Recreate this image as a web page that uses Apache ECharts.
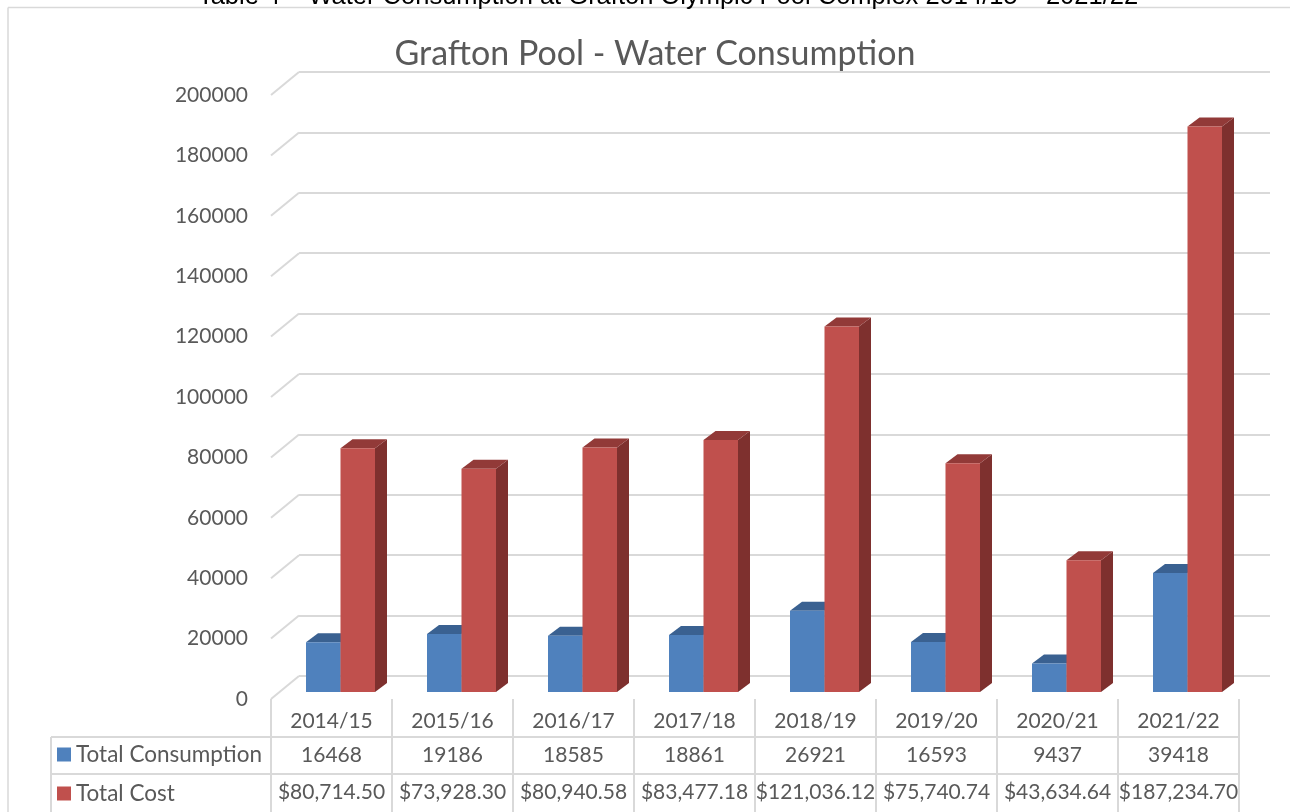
<!DOCTYPE html>
<html>
<head>
<meta charset="utf-8">
<script src="https://cdn.jsdelivr.net/npm/echarts@6/dist/echarts.min.js"></script>
<style>
html,body{margin:0;padding:0;background:#fff;}
#c{width:1290px;height:812px;}
</style>
</head>
<body>
<div id="c"></div>
<script>
const categories = ['2014/15','2015/16','2016/17','2017/18','2018/19','2019/20','2020/21','2021/22'];
const consumption = [16468, 19186, 18585, 18861, 26921, 16593, 9437, 39418];
const cost = [80714.50, 73928.30, 80940.58, 83477.18, 121036.12, 75740.74, 43634.64, 187234.70];
const yTicks = [0, 20000, 40000, 60000, 80000, 100000, 120000, 140000, 160000, 180000, 200000];
const seriesNames = ['Total Consumption', 'Total Cost'];
const captionText = 'Table 4 \u2013 Water Consumption at Grafton Olympic Pool Complex 2014/15 \u2013 2021/22';
const titleText = 'Grafton Pool - Water Consumption';

function fmtMoney(v) {
  const s = v.toFixed(2);
  const parts = s.split('.');
  return '$' + parts[0].replace(/\B(?=(\d{3})+(?!\d))/g, ',') + '.' + parts[1];
}

const FONT = 'Lato';
const TXT = '#595959';
const GRID_C = '#d9d9d9';
const COLORS = [
  {front: '#4F81BD', top: '#3A6191', side: '#385D8A'},
  {front: '#C0504D', top: '#923A38', side: '#7E302E'}
];
const BAR_W = 34.5;
const DEPTH_X = 12, DEPTH_Y = -9;
const OFF_X = 9, OFF_Y = -7;
const WALL_X = 28, WALL_Y = -23;

function barRender(si) {
  return function (params, api) {
    const idx = api.value(0);
    const val = api.value(1);
    const base = api.coord([idx, 0]);
    const top = api.coord([idx, val]);
    const cx = base[0] + OFF_X;
    const x0 = si === 0 ? cx - BAR_W : cx;
    const x1 = x0 + BAR_W;
    const yb = base[1] + OFF_Y;
    const yt = top[1] + OFF_Y;
    const c = COLORS[si];
    return {
      type: 'group',
      children: [
        {type: 'polygon', shape: {points: [[x1, yt], [x1 + DEPTH_X, yt + DEPTH_Y], [x1 + DEPTH_X, yb + DEPTH_Y], [x1, yb]]}, style: {fill: c.side}},
        {type: 'polygon', shape: {points: [[x0, yt], [x1, yt], [x1 + DEPTH_X, yt + DEPTH_Y], [x0 + DEPTH_X, yt + DEPTH_Y]]}, style: {fill: c.top}},
        {type: 'rect', shape: {x: x0, y: yt, width: BAR_W, height: yb - yt}, style: {fill: c.front}}
      ]
    };
  };
}

const chart = echarts.init(document.getElementById('c'), null, {renderer: 'canvas'});

const labelStyle = {fontFamily: FONT, fontSize: 21, color: TXT, interval: 0};

const option = {
  backgroundColor: '#fff',
  animation: false,
  title: {
    text: titleText,
    left: 650, textAlign: 'center', top: 32,
    textStyle: {fontFamily: FONT, fontSize: 34, fontWeight: 'normal', color: TXT}
  },
  legend: {
    orient: 'vertical', left: 57, top: 743, itemGap: 16, padding: 0,
    itemWidth: 14, itemHeight: 14, icon: 'rect', selectedMode: false,
    textStyle: {fontFamily: FONT, fontSize: 22.5, color: TXT},
    data: seriesNames
  },
  grid: [
    {left: 271, right: 51, top: 95, bottom: 113},
    {left: 299, right: 20, top: 72, bottom: 136}
  ],
  xAxis: [
    {type: 'category', gridIndex: 0, position: 'bottom', data: categories, axisLine: {show: false},
     axisTick: {show: true, length: 113, interval: 0, lineStyle: {color: GRID_C, width: 2}},
     axisLabel: Object.assign({margin: 12}, labelStyle)},
    {type: 'category', gridIndex: 0, position: 'bottom', data: consumption.map(String), offset: 34, axisLine: {show: false},
     axisTick: {show: false}, axisLabel: Object.assign({margin: 12}, labelStyle)},
    {type: 'category', gridIndex: 0, position: 'bottom', data: cost.map(fmtMoney), offset: 71, axisLine: {show: false},
     axisTick: {show: false}, axisLabel: Object.assign({margin: 12}, labelStyle)},
    {type: 'value', gridIndex: 1, show: false, min: 0, max: 1}
  ],
  yAxis: [
    {type: 'value', gridIndex: 0, min: 0, max: 200000, interval: 20000,
     axisLine: {show: false}, axisTick: {show: false}, splitLine: {show: false},
     axisLabel: Object.assign({margin: 23, formatter: v => String(v)}, labelStyle)},
    {type: 'value', gridIndex: 1, min: 0, max: 200000, interval: 20000,
     axisLine: {show: false}, axisTick: {show: false}, axisLabel: {show: false},
     splitLine: {show: true, lineStyle: {color: GRID_C, width: 2}}}
  ],
  graphic: [
    {type: 'text', x: 668, y: -16, style: {text: captionText, font: '25.5px "Liberation Sans"', fill: '#000', align: 'center'}, z: 10},
    {type: 'line', shape: {x1: 8, y1: 7.5, x2: 1290, y2: 7.5}, style: {stroke: GRID_C, lineWidth: 1.5}},
    {type: 'line', shape: {x1: 8, y1: 7.5, x2: 8, y2: 812}, style: {stroke: GRID_C, lineWidth: 1.5}},
    {type: 'line', shape: {x1: 51, y1: 737, x2: 1240, y2: 737}, style: {stroke: GRID_C, lineWidth: 2}},
    {type: 'line', shape: {x1: 51, y1: 774, x2: 1240, y2: 774}, style: {stroke: GRID_C, lineWidth: 2}},
    {type: 'line', shape: {x1: 51, y1: 737, x2: 51, y2: 812}, style: {stroke: GRID_C, lineWidth: 2}}
  ],
  series: [
    {
      type: 'custom', name: 'wall', xAxisIndex: 0, yAxisIndex: 0, silent: true, z: 1,
      data: yTicks.map(v => [0, v]),
      renderItem: function (params, api) {
        const y = api.coord([0, api.value(1)])[1];
        const x = params.coordSys.x;
        return {type: 'line', shape: {x1: x, y1: y, x2: x + WALL_X, y2: y + WALL_Y},
                style: {stroke: GRID_C, lineWidth: 2}};
      }
    },
    {
      type: 'custom', name: seriesNames[0], xAxisIndex: 0, yAxisIndex: 0, z: 3,
      itemStyle: {color: COLORS[0].front},
      data: consumption.map((v, i) => [i, v]),
      renderItem: barRender(0)
    },
    {
      type: 'custom', name: seriesNames[1], xAxisIndex: 0, yAxisIndex: 0, z: 4,
      itemStyle: {color: COLORS[1].front},
      data: cost.map((v, i) => [i, v]),
      renderItem: barRender(1)
    }
  ]
};
chart.setOption(option);
</script>
</body>
</html>
